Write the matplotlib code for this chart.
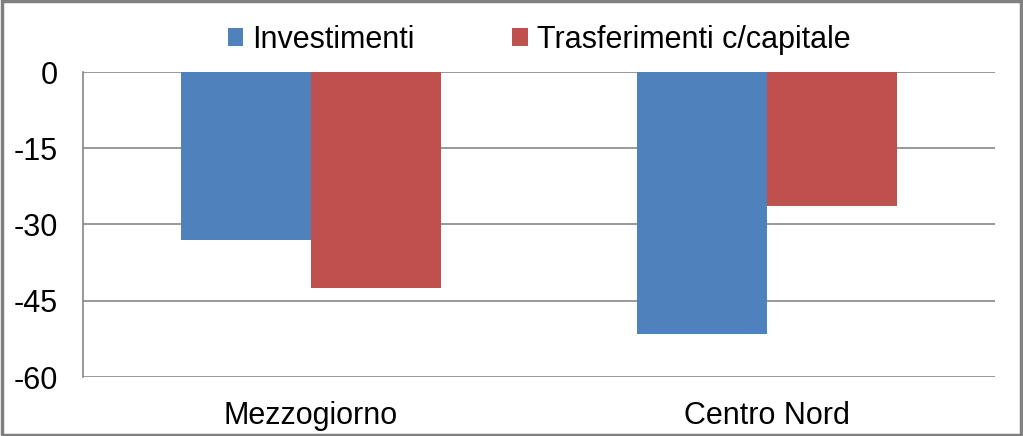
import matplotlib
matplotlib.use("Agg")
import matplotlib.pyplot as plt
import numpy as np
from matplotlib.patches import Rectangle

categories = ["Mezzogiorno", "Centro Nord"]
series_names = ["Investimenti", "Trasferimenti c/capitale"]
investimenti = [-33.0, -51.6]
trasferimenti = [-42.4, -26.4]
yticks = [0, -15, -30, -45, -60]

colors = ["#4F81BD", "#C0504D"]
plt.rcParams['font.family'] = ['Liberation Sans', 'DejaVu Sans']

fig = plt.figure(figsize=(10.23, 4.36), dpi=100)
ax = fig.add_axes([83/1023, 1-377/436, (995-83)/1023, (377-72)/436])

x = np.arange(len(categories))
w = 0.285
ax.bar(x - w/2, investimenti, w, color=colors[0], label=series_names[0], zorder=3)
ax.bar(x + w/2, trasferimenti, w, color=colors[1], label=series_names[1], zorder=3)

ax.set_xlim(-0.5, 1.5)
ax.set_ylim(-60, 0)
ax.set_yticks(yticks)
ax.set_yticklabels([str(t) for t in yticks], fontsize=22)
ax.set_xticks(x)
ax.set_xticklabels(categories, fontsize=22)
ax.tick_params(axis='x', length=0, pad=17)
ax.tick_params(axis='y', length=0, pad=18)
ax.yaxis.grid(True, color='#868686', linewidth=1.2, zorder=0)
for s in ['top', 'right', 'bottom']:
    ax.spines[s].set_visible(False)
ax.spines['left'].set_color('#868686')
ax.spines['left'].set_linewidth(1.2)

leg = fig.legend(loc='center', bbox_to_anchor=(539/1023, 1-40/436), ncol=2, frameon=False,
                 fontsize=22, handlelength=0.5, handleheight=0.5, handletextpad=0.3,
                 columnspacing=3.2)

fig.patches.append(Rectangle((0.0015, 0.003), 0.997, 0.994, transform=fig.transFigure,
                             fill=False, edgecolor='#808080', linewidth=2.5))

fig.savefig("out.png", dpi=100)
